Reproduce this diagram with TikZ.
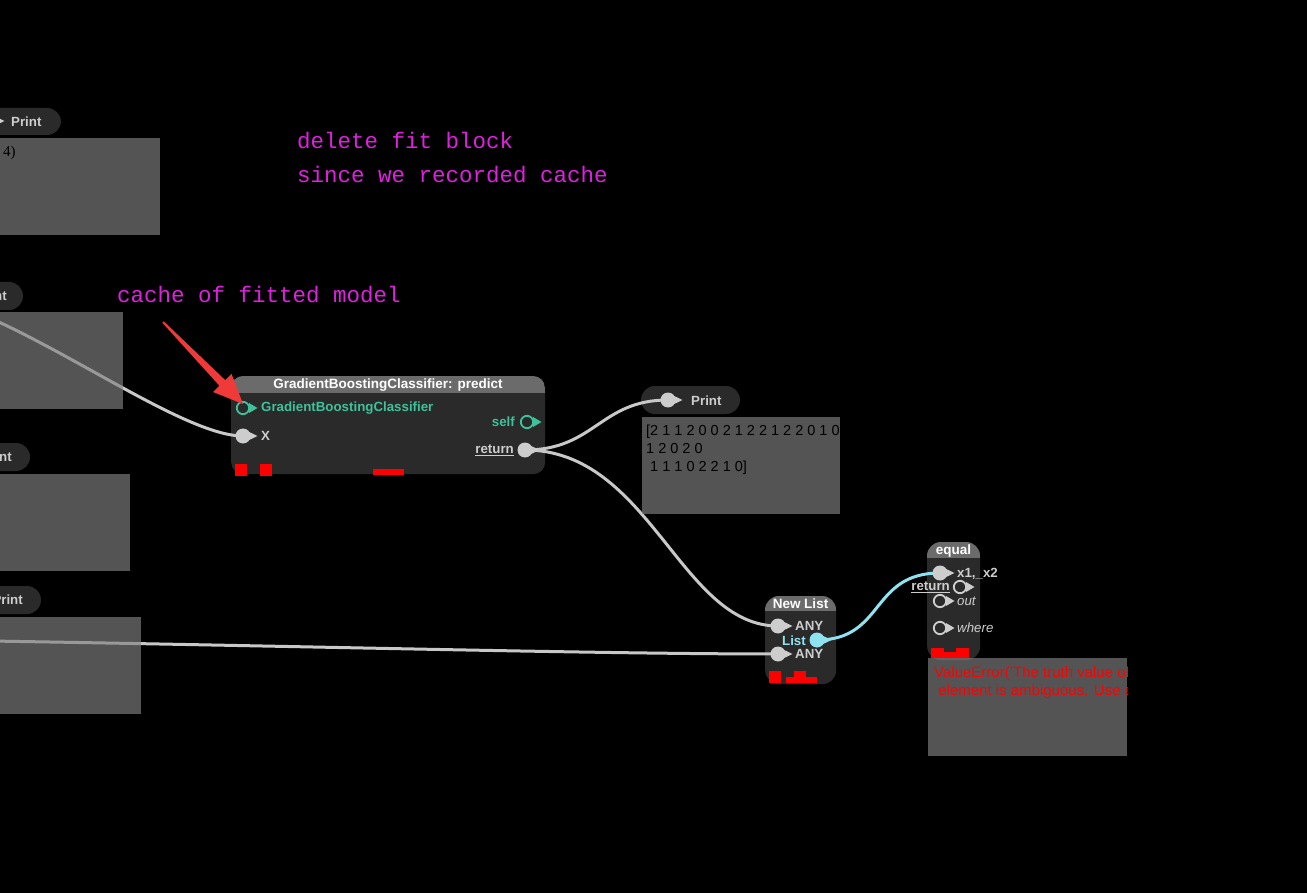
\documentclass[tikz,border=0pt]{standalone}
\usepackage{fontspec}
\setmainfont{Liberation Sans}
\newfontfamily\monof{Liberation Mono}
\newfontfamily\serf{Liberation Serif}
\definecolor{nodebg}{HTML}{2A2A2A}
\definecolor{hdr}{HTML}{6B6B6B}
\definecolor{boxc}{HTML}{818181}
\definecolor{wire}{HTML}{C8C8C8}
\definecolor{portc}{HTML}{CDCDCD}
\definecolor{teal}{HTML}{3EC29B}
\definecolor{cyanw}{HTML}{8FE3F0}
\definecolor{magen}{HTML}{E020E0}
\definecolor{errred}{HTML}{FF0000}
\definecolor{arrowred}{HTML}{F03A3A}
\newcommand{\portF}[3]{\fill[#3] (#1,#2) circle (7.5); \fill[#3] (#1+2,#2-6) -- (#1+14.5,#2) -- (#1+2,#2+6) -- cycle;}
\newcommand{\portO}[3]{\draw[#3,line width=1.8] (#1,#2) circle (6.2); \fill[#3] (#1+6,#2-5) -- (#1+14.5,#2) -- (#1+6,#2+5) -- cycle;}
\tikzset{
  wireline/.style={draw=wire,line width=3},
  cyanline/.style={draw=cyanw,line width=3},
  outbox/.style={fill=boxc,fill opacity=0.66},
  pill/.style={fill=nodebg,rounded corners=14},
  lbl/.style={inner sep=0,font=\bfseries\fontsize{13.3}{15}\selectfont,text=portc},
  ttl/.style={inner sep=0,font=\bfseries\fontsize{13.5}{15}\selectfont,text=white},
  ann/.style={inner sep=0,anchor=base west,font=\monof\fontsize{22.5}{26}\selectfont,text=magen},
  prt/.style={inner sep=0,anchor=base west,font=\fontsize{14.5}{18}\selectfont,text=black},
  redsq/.style={fill=errred}
}
\begin{document}
\begin{tikzpicture}[x=1pt,y=-1pt]
\fill[black] (0,0) rectangle (1307,893);
\useasboundingbox (0,0) rectangle (1307,893);
% port coordinates
\coordinate (gbcgb) at (243,408);
\coordinate (gbcx) at (243,436);
\coordinate (gbcself) at (527,422);
\coordinate (gbcret) at (525,450);
\coordinate (prtin) at (668,400);
\coordinate (nla) at (778,626);
\coordinate (nlb) at (778,654);
\coordinate (nlout) at (817,640);
\coordinate (eqx) at (940,573);
\coordinate (eqret) at (960,587);
\coordinate (eqout) at (940,601);
\coordinate (eqwhere) at (940,628);
\coordinate (srcA) at (-10,318);
\coordinate (srcB) at (-10,641);
% main node body
\node[fill=nodebg,rounded corners=12,inner sep=0,anchor=north west,minimum width=314,minimum height=98] (gbc) at (231,376) {};
\begin{scope}
\clip[rounded corners=12] (231,376) rectangle (545,474);
\fill[hdr] (231,376) rectangle (545,393);
\end{scope}
% print pill (middle)
\fill[pill] (641,386) rectangle (740,414);
% new list body
\node[fill=nodebg,rounded corners=14,inner sep=0,anchor=north west,minimum width=71,minimum height=88] (nl) at (765,596) {};
\begin{scope}
\clip[rounded corners=14] (765,596) rectangle (836,684);
\fill[hdr] (765,596) rectangle (836,611);
\end{scope}
% equal body
\node[fill=nodebg,rounded corners=14,inner sep=0,anchor=north west,minimum width=53,minimum height=118] (eq) at (927,542) {};
\begin{scope}
\clip[rounded corners=14] (927,542) rectangle (980,660);
\fill[hdr] (927,542) rectangle (980,558);
\end{scope}
% connectors
\draw[wireline] (srcA) .. controls (80,358) and (190,436) .. (gbcx);
\draw[wireline] (srcB) .. controls (300,646) and (600,654) .. (nlb);
\draw[wireline] (gbcret) .. controls (595,450) and (600,400) .. (prtin);
\draw[wireline] (gbcret) .. controls (650,450) and (680,626) .. (nla);
\draw[cyanline] (nlout) .. controls (885,640) and (870,573) .. (eqx);
% left output boxes and pills
\fill[pill] (-30,108) rectangle (61,135);
\node[lbl,anchor=west] (p1) at (11,121.5) {Print};
\portF{-10}{121}{portc}
\node[outbox,inner sep=0,anchor=north west,minimum width=160,minimum height=97] (b1) at (0,138) {};
\node[inner sep=0,anchor=base west,font=\serf\fontsize{15}{16}\selectfont,text=black] (t1) at (3,157) {4)};
\fill[pill] (-60,282) rectangle (23,310);
\node[lbl,anchor=east] (p2) at (7,295.5) {Print};
\node[outbox,inner sep=0,anchor=north west,minimum width=123,minimum height=97] (b2) at (0,312) {};
\fill[pill] (-60,443) rectangle (30,471);
\node[lbl,anchor=east] (p3) at (12,456.5) {Print};
\node[outbox,inner sep=0,anchor=north west,minimum width=130,minimum height=97] (b3) at (0,474) {};
\fill[pill] (-60,586) rectangle (41,614);
\node[lbl,anchor=east] (p4) at (23,599.5) {Print};
\node[outbox,inner sep=0,anchor=north west,minimum width=141,minimum height=97] (b4) at (0,617) {};
% main node content
\node[ttl] (gbct) at (388,385) {GradientBoostingClassifier: predict};
\node[lbl,text=teal,anchor=west] (gbcl1) at (261,408) {GradientBoostingClassifier};
\node[lbl,anchor=west] (gbcl2) at (261,436) {X};
\node[lbl,text=teal,anchor=east] (gbcl3) at (515,422) {self};
\node[lbl,anchor=east] (gbcl4) at (514,450) {\underline{return}};
\portO{243}{408}{teal}
\portF{243}{436}{portc}
\portO{527}{422}{teal}
\portF{525}{450}{portc}
\fill[redsq] (235,464) rectangle (247,476);
\fill[redsq] (260,464) rectangle (272,476);
\fill[redsq] (373,469) rectangle (404,475);
% print node content
\node[lbl,anchor=west] (prtl) at (691,400.5) {Print};
\portF{668}{400}{portc}
\node[outbox,inner sep=0,anchor=north west,minimum width=198,minimum height=97] (pbox) at (642,417) {};
\begin{scope}
\clip (642,417) rectangle (840,514);
\node[prt] (pt1) at (646,435.5) {[2 1 1 2 0 0 2 1 2 2 1 2 2 0 1 0};
\node[prt] (pt2) at (646,453.5) {1 2 0 2 0};
\node[prt] (pt3) at (646,471.5) {\ 1 1 1 0 2 2 1 0]};
\end{scope}
% new list content
\node[ttl] (nlt) at (800.5,603.5) {New List};
\node[lbl,anchor=west] (nla1) at (795,625.5) {ANY};
\node[lbl,anchor=west] (nla2) at (795,653.5) {ANY};
\node[lbl,text=cyanw,anchor=east] (nll) at (806,640.5) {List};
\portF{778}{626}{portc}
\portF{778}{654}{portc}
\portF{817}{640}{cyanw}
\fill[redsq] (769,671) rectangle (781,683);
\fill[redsq] (786,677) rectangle (817,683);
\fill[redsq] (794,671) rectangle (806,677);
% equal content
\node[ttl] (eqt) at (953.5,551) {equal};
\node[lbl,anchor=west] (eql1) at (957,573.5) {x1,\_x2};
\node[lbl,anchor=east] (eql2) at (950,587.5) {\underline{return}};
\node[lbl,anchor=west,font=\itshape\fontsize{13.3}{15}\selectfont] (eql3) at (957,601) {out};
\node[lbl,anchor=west,font=\itshape\fontsize{13.3}{15}\selectfont] (eql4) at (957,628) {where};
\portF{940}{573}{portc}
\portO{960}{587}{portc}
\portO{940}{601}{portc}
\portO{940}{628}{portc}
\fill[redsq] (931,648) rectangle (944,658);
\fill[redsq] (944,652) rectangle (956,658);
\fill[redsq] (956,648) rectangle (969,658);
% error box
\node[outbox,inner sep=0,anchor=north west,minimum width=199,minimum height=98] (ebox) at (928,658) {};
\begin{scope}
\clip (928,658) rectangle (1127,756);
\node[prt,text=errred,font=\fontsize{15}{18}\selectfont] (e1) at (934,677.5) {ValueError('The truth value of an array with more than one};
\node[prt,text=errred,font=\fontsize{15}{18}\selectfont] (e2) at (934,695.5) {\ element is ambiguous. Use a.any() or a.all()')};
\end{scope}
% annotations
\node[ann] (a1) at (297,149) {delete fit block};
\node[ann] (a2) at (297,183) {since we recorded cache};
\node[ann] (a3) at (117,303) {cache of fitted model};
\coordinate (arrtail) at (163,322);
\fill[arrowred] (arrtail) -- (163.7,321.3) -- (225.2,380.1) -- (231.5,373.8) -- (243,404) -- (213,392) -- (219.4,385.7) -- (162.3,322.7) -- cycle;
\end{tikzpicture}
\end{document}
